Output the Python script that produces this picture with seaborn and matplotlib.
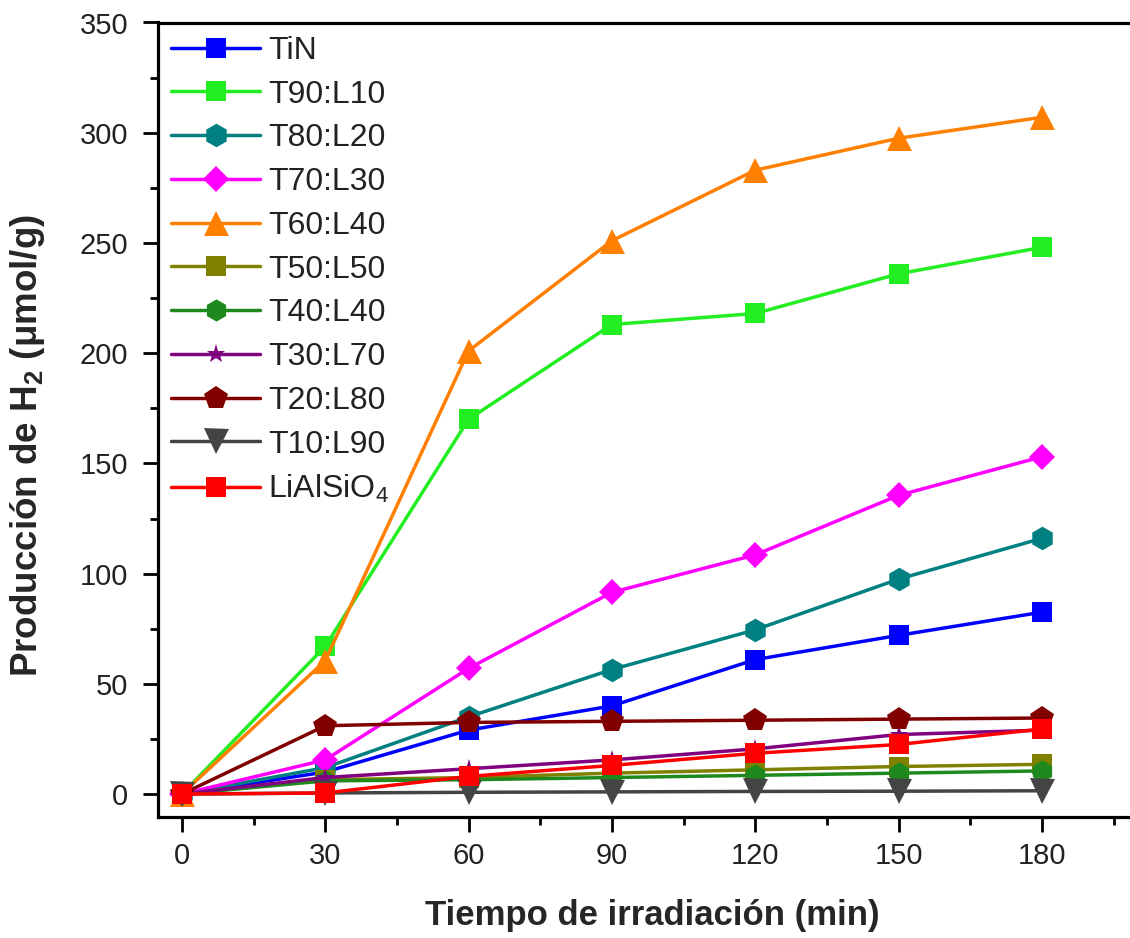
import matplotlib
matplotlib.use("Agg")
import matplotlib.pyplot as plt
from matplotlib.ticker import MultipleLocator
import seaborn as sns
import pandas as pd

# ---- data ----
tiempo = [0, 30, 60, 90, 120, 150, 180]
series_names = ["TiN", "T90:L10", "T80:L20", "T70:L30", "T60:L40", "T50:L50",
                "T40:L40", "T30:L70", "T20:L80", "T10:L90", "LiAlSiO$_4$"]
TiN = [0, 10, 29, 40, 61, 72, 82.5]
T90L10 = [0, 67, 170, 213, 218, 236, 248]
T80L20 = [0, 12, 35, 56.5, 74.5, 97.5, 116]
T70L30 = [0, 15.5, 57, 91.5, 108.5, 135.5, 153]
T60L40 = [0, 60.5, 201, 251, 283, 297.5, 307]
T50L50 = [0, 6.5, 7.5, 9.5, 11, 12.5, 13.5]
T40L40 = [0, 6, 6.5, 7.5, 8.5, 9.5, 10.5]
T30L70 = [0, 7.5, 11.5, 15.5, 20.5, 27, 29]
T20L80 = [0, 31, 32.5, 33, 33.5, 34, 34.5]
T10L90 = [0, 0.5, 0.8, 1, 1.2, 1.3, 1.5]
LiAlSiO4 = [0, 0.5, 8, 13, 18.5, 22.5, 29.5]
values = [TiN, T90L10, T80L20, T70L30, T60L40, T50L50, T40L40, T30L70,
          T20L80, T10L90, LiAlSiO4]
x_ticks = [0, 30, 60, 90, 120, 150, 180]
y_ticks = [0, 50, 100, 150, 200, 250, 300, 350]

# ---- styles ----
colors = ["#0000FF", "#22EE22", "#008080", "#FF00FF", "#FF8000", "#808000",
          "#1E8A1E", "#800080", "#800000", "#444444", "#FF0000"]
markers = ["s", "s", "h", "D", "^", "s", "h", "*", "p", "v", "s"]
msizes = [14, 14, 17, 13, 18, 14, 16, 14, 18, 18, 14]

sns.set_style("ticks")
plt.rcParams["font.family"] = ["Liberation Sans", "DejaVu Sans"]
plt.rcParams["mathtext.fontset"] = "custom"
plt.rcParams["mathtext.rm"] = "Liberation Sans"
plt.rcParams["mathtext.bf"] = "Liberation Sans:bold"
plt.rcParams["mathtext.it"] = "Liberation Sans:italic"

fig = plt.figure(figsize=(11.30, 9.38), dpi=100)
ax_left, ax_right, ax_top, ax_bottom = 158, 1146, 22.5, 817
ax = fig.add_axes([ax_left / 1130, 1 - ax_bottom / 938,
                   (ax_right - ax_left) / 1130, (ax_bottom - ax_top) / 938])

for name, vals, c, m, ms in zip(series_names, values, colors, markers, msizes):
    df = pd.DataFrame({"t": tiempo, "v": vals})
    sns.lineplot(data=df, x="t", y="v", ax=ax, color=c, marker=m,
                 markersize=ms, markeredgewidth=0, linewidth=2.5,
                 label=name, estimator=None, sort=False)

ax.set_xlim(-5, 201.8)
ax.set_ylim(-10.4, 348.5)
ax.set_xticks(x_ticks)
ax.set_yticks(y_ticks)
ax.xaxis.set_minor_locator(MultipleLocator(15))
ax.yaxis.set_minor_locator(MultipleLocator(25))
ax.tick_params(axis="both", which="major", direction="out", length=11,
               width=2.0, labelsize=21, pad=7, colors="black",
               labelcolor="#222222")
ax.tick_params(axis="y", which="major", pad=10.5)
ax.tick_params(axis="both", which="minor", direction="out", length=6,
               width=2.0, colors="black")

for s in ["left", "bottom", "top"]:
    ax.spines[s].set_linewidth(2.3)
    ax.spines[s].set_color("black")
ax.spines["right"].set_visible(False)
ax.spines["top"].set_visible(True)

ax.set_xlabel("Tiempo de irradiación (min)", fontsize=25, fontweight="bold",
              labelpad=21)
ax.set_ylabel(r"Producción de H$_\mathbf{2}$ (μmol/g)", fontsize=26.5,
              fontweight="bold")
ax.yaxis.set_label_coords(-0.112, 0.467)

leg = ax.legend(loc="upper left", bbox_to_anchor=(0.0, 1.0), frameon=False,
                fontsize=23, handlelength=2.78, handletextpad=0.25,
                labelspacing=0.43, borderaxespad=0.0, borderpad=0.42)
for t in leg.get_texts():
    t.set_color("#222222")

fig.savefig("out.png", dpi=100)
